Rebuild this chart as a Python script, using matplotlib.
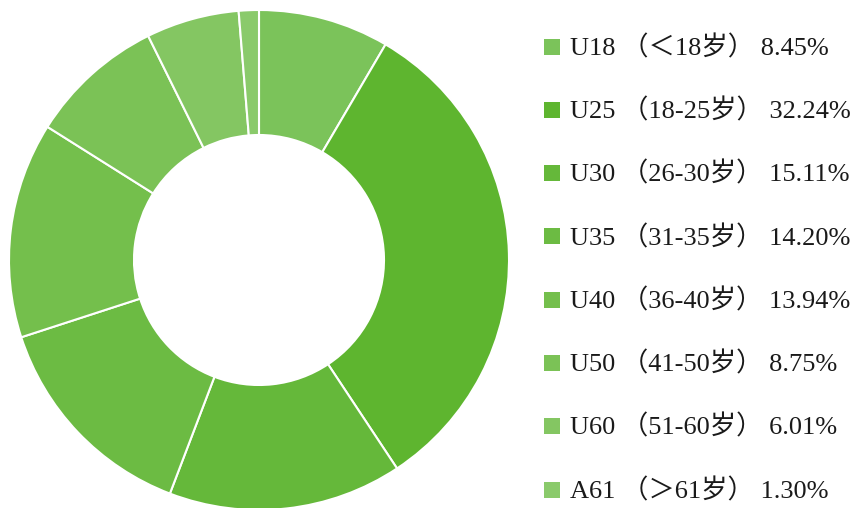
import matplotlib
matplotlib.use('Agg')
import matplotlib.pyplot as plt
from matplotlib.patches import Rectangle

# age groups and their shares (%)
groups = ['U18 （<18岁） ', 'U25 （18-25岁） ', 'U30 （26-30岁） ', 'U35 （31-35岁） ',
          'U40 （36-40岁） ', 'U50 （41-50岁） ', 'U60 （51-60岁） ', 'A61 （>61岁） ']
groups = [g.replace('<', '＜').replace('>', '＞') for g in groups]
shares = [8.45, 32.24, 15.11, 14.20, 13.94, 8.75, 6.01, 1.30]
colors = ['#7BC35A', '#5EB52F', '#65B83A', '#6CBB43', '#74BF4C', '#7BC256', '#84C662', '#8ACA6B']

W, H = 856, 508
fig = plt.figure(figsize=(W / 100, H / 100), dpi=100)

# donut
ax = fig.add_axes([9 / W, -2 / H, 500 / W, 500 / H])
ax.pie(shares, colors=colors, startangle=90, counterclock=False, radius=1,
       wedgeprops=dict(width=0.5, edgecolor='white', linewidth=1.5))
ax.set_xlim(-1, 1)
ax.set_ylim(-1, 1)
ax.set_aspect('equal')
ax.axis('off')

# legend drawn in pixel coords
lax = fig.add_axes([0, 0, 1, 1])
lax.set_xlim(0, W)
lax.set_ylim(H, 0)
lax.axis('off')
y0, dy = 46.5, 63.3
for i, (g, s, c) in enumerate(zip(groups, shares, colors)):
    y = y0 + i * dy
    lax.add_patch(Rectangle((544, y - 8), 16, 16, color=c, lw=0))
    lax.text(570, y + 1, f'{g}{s:.2f}%', va='center', ha='left', fontsize=19,
             color='#1a1a1a', family=['Liberation Serif', 'Noto Sans CJK SC'])

fig.savefig('out.png', dpi=100)
